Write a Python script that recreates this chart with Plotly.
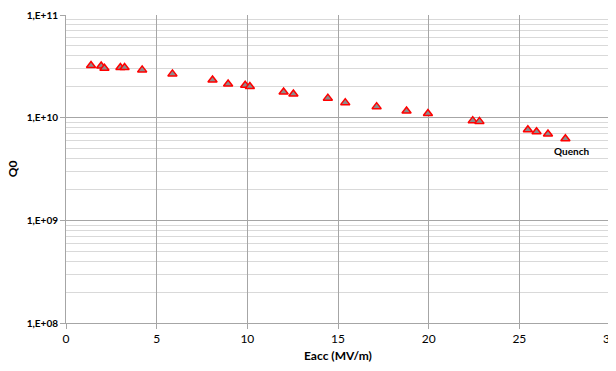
import plotly.graph_objects as go

eacc = [1.38, 1.94, 2.12, 3.0, 3.23, 4.2, 5.87, 8.08, 8.94, 9.88, 10.14, 12.0, 12.54,
        14.44, 15.4, 17.13, 18.78, 19.96, 22.43, 22.8, 25.47, 25.95, 26.58, 27.54]
q0 = [3.22e10, 3.18e10, 3.03e10, 3.08e10, 3.08e10, 2.92e10, 2.67e10, 2.33e10, 2.13e10,
      2.07e10, 2.01e10, 1.78e10, 1.70e10, 1.55e10, 1.40e10, 1.28e10, 1.16e10, 1.10e10,
      9.35e9, 9.2e9, 7.63e9, 7.3e9, 6.93e9, 6.24e9]
y_tickvals = [1e8, 1e9, 1e10, 1e11]
y_ticktext = ["<b>1,E+08</b>", "<b>1,E+09</b>", "<b>1,E+10</b>", "<b>1,E+11</b>"]
x_tickvals = [0, 5, 10, 15, 20, 25, 30]

fig = go.Figure()
fig.add_trace(go.Scatter(
    x=eacc, y=q0, mode="markers",
    marker=dict(symbol="triangle-up", size=8, color="#8c8c8c",
                line=dict(color="#ff0000", width=1.5)),
    showlegend=False,
))
fig.add_annotation(x=27.85, y=9.675, xref="x", yref="y", text="<b>Quench</b>",
                   showarrow=False, font=dict(family="Lato", size=10, color="#000"))
fig.add_annotation(x=0.5, y=-0.104, xref="paper", yref="paper", text="<b>Eacc (MV/m)</b>",
                   showarrow=False, yanchor="middle", font=dict(family="Lato", size=12, color="#000"))
fig.add_annotation(x=-0.099, y=0.5, xref="paper", yref="paper", text="<b>Q0</b>", textangle=-90,
                   showarrow=False, xanchor="center", font=dict(family="Lato", size=12, color="#000"))

fig.update_layout(
    width=608, height=363,
    margin=dict(l=58, r=6, t=7, b=48),
    paper_bgcolor="white", plot_bgcolor="white",
    font=dict(family="Lato", color="#000"),
)
fig.update_xaxes(
    range=[0, 30], tickvals=x_tickvals, showgrid=True, gridcolor="#a6a6a6", gridwidth=1,
    showline=True, linecolor="#a6a6a6", ticks="outside", ticklen=5, tickcolor="#a6a6a6",
    tickfont=dict(size=12), zeroline=False, automargin=False, ticklabeloverflow="allow",
)
fig.update_yaxes(
    type="log", range=[8, 11], tickvals=y_tickvals, ticktext=y_ticktext,
    showgrid=True, gridcolor="#a6a6a6", gridwidth=1,
    showline=True, linecolor="#a6a6a6", ticks="outside", ticklen=5, tickcolor="#a6a6a6",
    tickfont=dict(size=10), zeroline=False, automargin=False,
    minor=dict(showgrid=True, gridcolor="#d9d9d9", gridwidth=1, dtick="D1", ticks=""),
)
fig.write_html("out.html")
